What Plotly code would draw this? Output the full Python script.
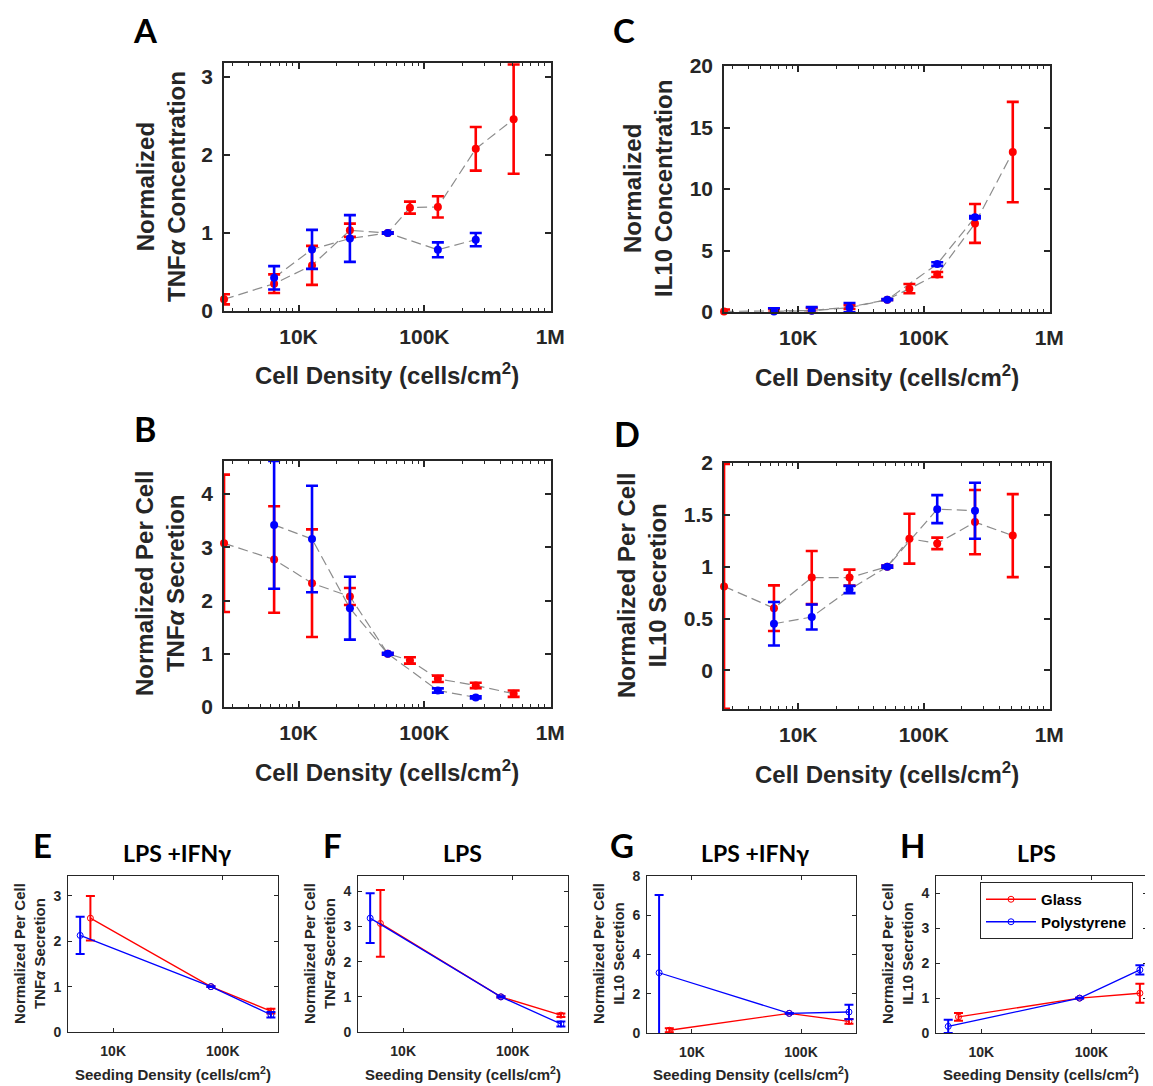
import plotly.graph_objects as go

W, H = 1153, 1086
OFF = 8  # default page body margin
FW, FH = W - OFF, H - OFF

# ---------------- data ----------------
dens_glass = [2560, 6400, 12800, 25600, 51200, 76800, 128000, 256000, 512000]
dens_ps = [6400, 12800, 25600, 51200, 128000, 256000]

tnf_conc_glass = [0.15, 0.35, 0.585, 1.035, 1.0, 1.325, 1.335, 2.08, 2.46]
tnf_conc_glass_err = [0.065, 0.12, 0.25, 0.085, 0.01, 0.077, 0.137, 0.28, 0.70]
tnf_conc_ps = [0.425, 0.79, 0.93, 1.0, 0.785, 0.915]
tnf_conc_ps_err = [0.15, 0.25, 0.30, 0.01, 0.095, 0.085]

tnf_cell_glass = [3.075, 2.77, 2.325, 2.075, 1.0, 0.875, 0.53, 0.405, 0.25]
tnf_cell_glass_err = [1.29, 1.0, 1.01, 0.16, 0.01, 0.06, 0.06, 0.05, 0.06]
tnf_cell_ps = [3.42, 3.155, 1.855, 1.0, 0.31, 0.18]
tnf_cell_ps_err = [1.2, 1.0, 0.59, 0.02, 0.04, 0.02]

il10_conc_glass = [0.05, 0.08, 0.12, 0.40, 1.0, 1.9, 3.05, 7.2, 13.0]
il10_conc_glass_err = [0.15, 0.15, 0.2, 0.15, 0.03, 0.38, 0.2, 1.58, 4.08]
il10_conc_ps = [0.05, 0.10, 0.35, 1.0, 3.9, 7.7]
il10_conc_ps_err = [0.25, 0.3, 0.38, 0.05, 0.15, 0.1]

il10_cell_glass = [0.81, 0.60, 0.895, 0.895, 1.0, 1.27, 1.225, 1.43, 1.30]
il10_cell_glass_err = [1.18, 0.22, 0.256, 0.077, 0.01, 0.24, 0.055, 0.31, 0.40]
il10_cell_ps = [0.45, 0.515, 0.78, 1.0, 1.555, 1.54]
il10_cell_ps_err = [0.21, 0.12, 0.035, 0.01, 0.135, 0.27]

seed_glass = [6200, 78000, 275000]
seed_ps = [5000, 78000, 275000]

e_glass = [2.51, 1.0, 0.46]
e_glass_err = [0.49, 0.01, 0.05]
e_ps = [2.13, 1.0, 0.38]
e_ps_err = [0.41, 0.01, 0.06]

f_glass = [3.09, 1.0, 0.48]
f_glass_err = [0.95, 0.02, 0.05]
f_ps = [3.24, 1.0, 0.23]
f_ps_err = [0.71, 0.02, 0.07]

g_glass = [0.14, 1.0, 0.59]
g_glass_err = [0.10, 0.02, 0.12]
g_ps = [3.07, 1.0, 1.07]
g_ps_err = [3.96, 0.02, 0.37]

h_glass = [0.46, 1.0, 1.14]
h_glass_err = [0.11, 0.01, 0.27]
h_ps = [0.19, 1.0, 1.81]
h_ps_err = [0.19, 0.01, 0.13]

# ---------------- styling ----------------
RED = "#FF0000"
BLUE = "#0000FF"
GRAY = "#8C8C8C"
DARK = "#262626"
ARIAL = "Liberation Sans, Arial, sans-serif"
CAL = "Lato, Carlito, sans-serif"

fig = go.Figure()


def px_x(px):
    return (px - OFF) / FW


def px_y(py):
    return 1 - (py - OFF) / FH


def dom_x(x0, x1):
    return [max(0, px_x(x0)), min(1, px_x(x1))]


def dom_y(y0, y1):
    return [max(0, px_y(y1)), min(1, px_y(y0))]


main_panels = [
    # name, xpx, ypx, yrange, dtick, glass, glass_err, ps, ps_err
    ("", (224, 551), (63, 311), [0, 3.18], 1, tnf_conc_glass, tnf_conc_glass_err, tnf_conc_ps, tnf_conc_ps_err),
    ("2", (224, 551), (461, 707), [0, 4.62], 1, tnf_cell_glass, tnf_cell_glass_err, tnf_cell_ps, tnf_cell_ps_err),
    ("3", (724, 1050), (66, 312), [0, 20], 5, il10_conc_glass, il10_conc_glass_err, il10_conc_ps, il10_conc_ps_err),
    ("4", (724, 1050), (463, 709), [-0.372, 2], 0.5, il10_cell_glass, il10_cell_glass_err, il10_cell_ps, il10_cell_ps_err),
]

layout_axes = {}
for name, xp, yp, yr, dt, gy, ge, py, pe in main_panels:
    xa = "x" + name
    ya = "y" + name
    # dashed connecting lines
    for xs, ys in ((dens_glass, gy), (dens_ps, py)):
        fig.add_trace(go.Scatter(x=xs, y=ys, mode="lines", xaxis=xa, yaxis=ya,
                                 line=dict(color=GRAY, width=1.2, dash="10px,5px"),
                                 showlegend=False, hoverinfo="skip"))
    for xs, ys, es, col in ((dens_glass, gy, ge, RED), (dens_ps, py, pe, BLUE)):
        fig.add_trace(go.Scatter(x=xs, y=ys, mode="markers", xaxis=xa, yaxis=ya,
                                 marker=dict(color=col, size=8),
                                 error_y=dict(type="data", array=es, color=col, thickness=2.6, width=6),
                                 cliponaxis=False, showlegend=False))
    layout_axes["xaxis" + name] = dict(
        type="log", domain=dom_x(*xp), range=[3.408, 6.006], anchor=ya, automargin=False,
        showline=True, linecolor=DARK, linewidth=1.5, mirror="ticks",
        ticks="inside", ticklen=6, tickwidth=1.5, tickcolor=DARK,
        dtick=1, tickformat="~s", labelalias={"10k": "10K", "100k": "100K"},
        minor=dict(ticks="inside", ticklen=3, tickwidth=1.2, tickcolor=DARK, dtick="D1", showgrid=False),
        showgrid=False, zeroline=False, ticklabelstandoff=6,
        tickfont=dict(family=ARIAL, size=21, color=DARK, weight="bold"))
    layout_axes["yaxis" + name] = dict(
        domain=dom_y(*yp), range=yr, anchor=xa, dtick=dt, tick0=0, automargin=False,
        showline=True, linecolor=DARK, linewidth=1.5, mirror="ticks",
        ticks="inside", ticklen=6, tickwidth=1.5, tickcolor=DARK,
        showgrid=False, zeroline=False, ticklabelstandoff=5,
        tickfont=dict(family=ARIAL, size=21, color=DARK, weight="bold"))

small_panels = [
    ("5", (68, 278), (876, 1032), [0, 3.44], 1, e_glass, e_glass_err, e_ps, e_ps_err, False),
    ("6", (358, 568), (876, 1032), [0, 4.44], 1, f_glass, f_glass_err, f_ps, f_ps_err, False),
    ("7", (647, 856), (876, 1033), [0, 8], 2, g_glass, g_glass_err, g_ps, g_ps_err, False),
    ("8", (936, 1147), (876, 1033), [0, 4.5], 1, h_glass, h_glass_err, h_ps, h_ps_err, True),
]

for name, xp, yp, yr, dt, gy, ge, py, pe, leg in small_panels:
    xa = "x" + name
    ya = "y" + name
    for xs, ys, es, col, lab in ((seed_glass, gy, ge, RED, "Glass"), (seed_ps, py, pe, BLUE, "Polystyrene")):
        fig.add_trace(go.Scatter(x=xs, y=ys, mode="lines+markers", xaxis=xa, yaxis=ya, name=lab,
                                 line=dict(color=col, width=1.3),
                                 marker=dict(symbol="circle-open", size=6, color=col, line=dict(width=1)),
                                 error_y=dict(type="data", array=es, color=col, thickness=2, width=4.5),
                                 cliponaxis=True, showlegend=leg))
    layout_axes["xaxis" + name] = dict(
        type="log", domain=dom_x(*xp), range=[3.588, 5.504], anchor=ya, automargin=False,
        showline=True, linecolor=DARK, linewidth=1, mirror="ticks",
        ticks="inside", ticklen=4, tickwidth=1, tickcolor=DARK,
        dtick=1, tickformat="~s", labelalias={"10k": "10K", "100k": "100K"},
        showgrid=False, zeroline=False, ticklabelstandoff=6,
        tickfont=dict(family=ARIAL, size=14, color=DARK, weight="bold"))
    layout_axes["yaxis" + name] = dict(
        domain=dom_y(*yp), range=yr, anchor=xa, dtick=dt, tick0=0, automargin=False,
        showline=True, linecolor=DARK, linewidth=1, mirror="ticks",
        ticks="inside", ticklen=4, tickwidth=1, tickcolor=DARK,
        showgrid=False, zeroline=False, ticklabelstandoff=3,
        tickfont=dict(family=ARIAL, size=14, color=DARK, weight="bold"))


def ann(text, xpx, ypx, size, angle=0, family=ARIAL, color=DARK):
    return dict(text=text, x=px_x(xpx), y=px_y(ypx), xref="paper", yref="paper",
                showarrow=False, textangle=angle, xanchor="center", yanchor="middle",
                font=dict(size=size, family=family, color=color, weight="bold"))


xt_main = "Cell Density (cells/cm<sup>2</sup>)"
xt_small = "Seeding Density (cells/cm<sup>2</sup>)"
annotations = [
    # panel letters
    ann("A", 145, 30, 33, family=CAL, color="black"),
    ann("B", 145, 428, 34, family=CAL, color="black"),
    ann("C", 624, 30, 33, family=CAL, color="black"),
    ann("D", 627, 433, 34, family=CAL, color="black"),
    ann("E", 42, 845, 33, family=CAL, color="black"),
    ann("F", 332, 845, 33, family=CAL, color="black"),
    ann("G", 622, 845, 33, family=CAL, color="black"),
    ann("H", 912, 845, 33, family=CAL, color="black"),
    # small panel titles
    ann("LPS +IFNγ", 177, 853, 23, family=CAL, color="black"),
    ann("LPS", 462, 853, 23, family=CAL, color="black"),
    ann("LPS +IFNγ", 755, 853, 23, family=CAL, color="black"),
    ann("LPS", 1036, 853, 23, family=CAL, color="black"),
    # x titles main
    ann(xt_main, 387, 374, 24),
    ann(xt_main, 387, 771, 24),
    ann(xt_main, 887, 376, 24),
    ann(xt_main, 887, 773, 24),
    # y titles main
    ann("Normalized<br>TNF<i>α</i> Concentration", 161, 187, 24, angle=-90),
    ann("Normalized Per Cell<br>TNF<i>α</i> Secretion", 160, 584, 24, angle=-90),
    ann("Normalized<br>IL10 Concentration", 648, 189, 24, angle=-90),
    ann("Normalized Per Cell<br>IL10 Secretion", 642, 586, 24, angle=-90),
    # x titles small
    ann(xt_small, 173, 1073, 15),
    ann(xt_small, 463, 1073, 15),
    ann(xt_small, 751, 1073, 15),
    ann(xt_small, 1041, 1073, 15),
    # y titles small
    ann("Normalized Per Cell<br>TNF<i>α</i> Secretion", 29, 954, 15, angle=-90),
    ann("Normalized Per Cell<br>TNF<i>α</i> Secretion", 319, 954, 15, angle=-90),
    ann("Normalized Per Cell<br>IL10 Secretion", 608, 954, 15, angle=-90),
    ann("Normalized Per Cell<br>IL10 Secretion", 897, 954, 15, angle=-90),
]

fig.update_layout(
    width=FW, height=FH, margin=dict(l=0, r=0, t=0, b=0, autoexpand=False),
    paper_bgcolor="white", plot_bgcolor="white",
    annotations=annotations,
    legend=dict(x=px_x(980), y=px_y(882), xanchor="left", yanchor="top",
                bordercolor=DARK, borderwidth=1, bgcolor="white",
                font=dict(family=ARIAL, size=15, color="black", weight="bold"),
                itemwidth=50, tracegroupgap=0),
    **layout_axes,
)

fig.write_html("out.html")
